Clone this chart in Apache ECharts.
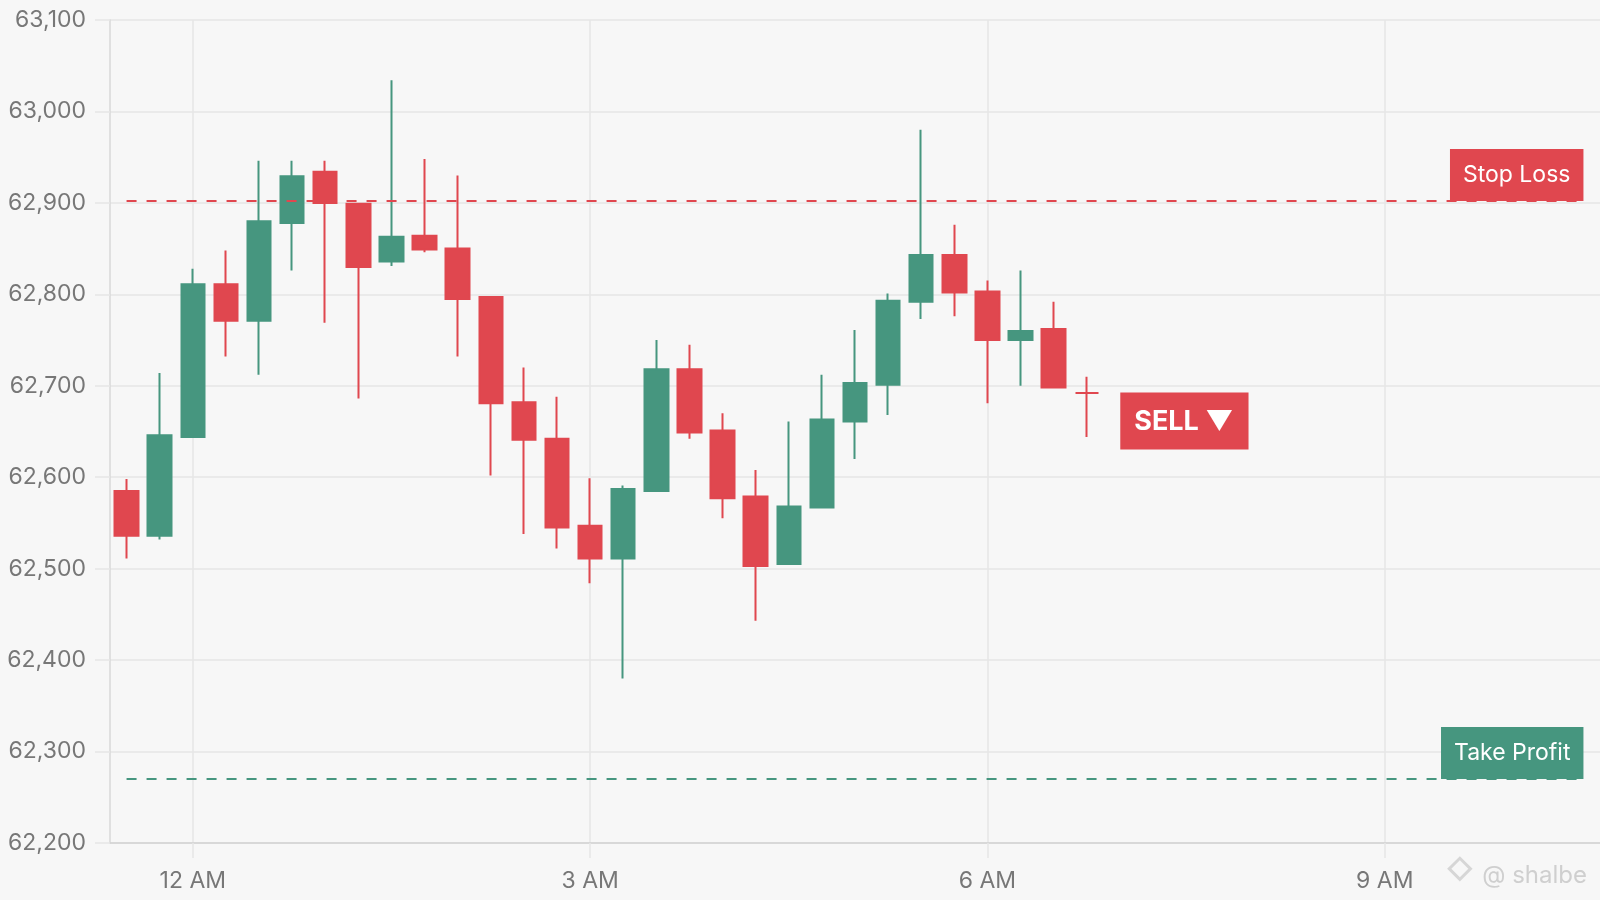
<!DOCTYPE html>
<html>
<head>
<meta charset="utf-8">
<script src="https://cdn.jsdelivr.net/npm/echarts@6/dist/echarts.min.js"></script>
<style>
  html, body { margin: 0; padding: 0; background: #f7f7f7; }
  #chart { width: 1600px; height: 900px; }
</style>
</head>
<body>
<div id="chart"></div>
<script>
// 15-minute time slots shown on the x axis
const categories = [
  '11:30 PM', '11:45 PM',
  '12 AM', '12:15 AM', '12:30 AM', '12:45 AM',
  '1 AM', '1:15 AM', '1:30 AM', '1:45 AM',
  '2 AM', '2:15 AM', '2:30 AM', '2:45 AM',
  '3 AM', '3:15 AM', '3:30 AM', '3:45 AM',
  '4 AM', '4:15 AM', '4:30 AM', '4:45 AM',
  '5 AM', '5:15 AM', '5:30 AM', '5:45 AM',
  '6 AM', '6:15 AM', '6:30 AM', '6:45 AM',
  '7 AM', '7:15 AM', '7:30 AM', '7:45 AM',
  '8 AM', '8:15 AM', '8:30 AM', '8:45 AM',
  '9 AM', '9:15 AM', '9:30 AM', '9:45 AM',
  '10 AM', '10:15 AM', '10:30 AM'
];
const tickLabels = ['12 AM', '3 AM', '6 AM', '9 AM'];

// OHLC values, one per 15-minute candle (starting 11:30 PM)
const opens  = [62585, 62536, 62644, 62811, 62771, 62878, 62934, 62899, 62836, 62864,
                62850, 62797, 62682, 62642, 62547, 62511, 62585, 62718, 62651, 62579,
                62505, 62567, 62661, 62701, 62792, 62843, 62803, 62750, 62762, 62692];
const closes = [62536, 62646, 62811, 62771, 62880, 62929, 62900, 62830, 62863, 62849,
                62795, 62681, 62641, 62545, 62511, 62587, 62718, 62649, 62577, 62503,
                62568, 62663, 62703, 62793, 62843, 62802, 62750, 62760, 62698, 62692];
const lows   = [62511, 62532, 62643, 62732, 62712, 62826, 62769, 62686, 62831, 62846,
                62732, 62602, 62538, 62522, 62484, 62380, 62585, 62642, 62555, 62443,
                62505, 62567, 62620, 62668, 62773, 62776, 62681, 62700, 62698, 62644];
const highs  = [62598, 62714, 62828, 62848, 62946, 62946, 62946, 62900, 63034, 62948,
                62930, 62797, 62720, 62688, 62599, 62591, 62750, 62745, 62670, 62608,
                62661, 62712, 62761, 62801, 62980, 62876, 62815, 62826, 62792, 62710];

const stopLoss = 62902;
const takeProfit = 62270;
const signalText = 'SELL ▼';

const GREEN = '#46967f';
const RED = '#e0474f';
const GRID = '#e6e6e6';
const TEXT = '#777777';
const FONT = 'Inter, Roboto, "Noto Sans", sans-serif';

const candleData = opens.map((o, i) => [o, closes[i], lows[i], highs[i]]);
const lastIdx = candleData.length - 1;
const isTick = (idx, val) => tickLabels.indexOf(val) >= 0;

const chart = echarts.init(document.getElementById('chart'), null, { renderer: 'canvas' });
chart.setOption({
  animation: false,
  backgroundColor: '#f7f7f7',
  grid: { left: 110, right: 0, top: 20, bottom: 57 },
  xAxis: {
    type: 'category',
    data: categories,
    boundaryGap: true,
    axisLine: { show: true, lineStyle: { color: '#d2d2d2', width: 1.5 } },
    axisTick: { show: true, alignWithLabel: true, interval: isTick, length: 15,
                lineStyle: { color: GRID, width: 1.5 } },
    splitLine: { show: true, alignWithLabel: true, interval: isTick,
                 lineStyle: { color: GRID, width: 1.5 } },
    axisLabel: { interval: isTick, color: TEXT, fontSize: 23, fontFamily: FONT, margin: 27 }
  },
  yAxis: {
    type: 'value',
    min: 62200, max: 63100, interval: 100,
    axisLine: { show: true, lineStyle: { color: '#d8d8d8', width: 1.5 } },
    axisTick: { show: true, length: 15, lineStyle: { color: GRID, width: 1.5 } },
    splitLine: { show: true, lineStyle: { color: GRID, width: 1.5 } },
    axisLabel: { color: TEXT, fontSize: 23, fontFamily: FONT, margin: 24,
                 formatter: v => v.toLocaleString('en-US') }
  },
  series: [{
    type: 'candlestick',
    data: candleData,
    barWidth: 24,
    itemStyle: {
      color: GREEN, color0: RED,
      borderColor: GREEN, borderColor0: RED,
      borderWidth: 2
    },
    markLine: {
      silent: true,
      symbol: 'none',
      data: [
        [
          { coord: [categories[0], stopLoss],
            lineStyle: { color: RED, type: [10, 10], width: 2 },
            label: { show: true, position: 'insideEndTop', formatter: 'Stop Loss',
                     color: '#fff', backgroundColor: RED, fontSize: 23, fontFamily: FONT,
                     lineHeight: 26, padding: [13, 13, 13, 13], distance: 0 } },
          { coord: [categories[categories.length - 1], stopLoss] }
        ],
        [
          { coord: [categories[0], takeProfit],
            lineStyle: { color: GREEN, type: [10, 10], width: 2 },
            label: { show: true, position: 'insideEndTop', formatter: 'Take Profit',
                     color: '#fff', backgroundColor: GREEN, fontSize: 23, fontFamily: FONT,
                     lineHeight: 26, padding: [13, 13, 13, 13], distance: 0 } },
          { coord: [categories[categories.length - 1], takeProfit] }
        ]
      ]
    },
    markPoint: {
      silent: true,
      symbol: 'rect',
      symbolSize: 1,
      itemStyle: { color: 'rgba(0,0,0,0)' },
      data: [{
        coord: [categories[lastIdx], closes[lastIdx]],
        label: {
          show: true, position: [34, 0], align: 'left', verticalAlign: 'top',
          formatter: signalText, color: '#fff', backgroundColor: RED,
          fontSize: 27, fontWeight: 'bold', fontFamily: FONT, lineHeight: 30,
          padding: [14, 15, 13, 14]
        }
      }]
    }
  }],
  graphic: [
    {
      type: 'text', right: 13, bottom: 12,
      style: { text: '@ shalbe', fill: '#cfcfcf', font: '24px ' + FONT }
    },
    {
      type: 'rect', right: 126, bottom: 17, rotation: Math.PI / 4,
      shape: { width: 15, height: 15 },
      style: { fill: 'none', stroke: '#d6d6d6', lineWidth: 3 }
    }
  ]
});
</script>
</body>
</html>
